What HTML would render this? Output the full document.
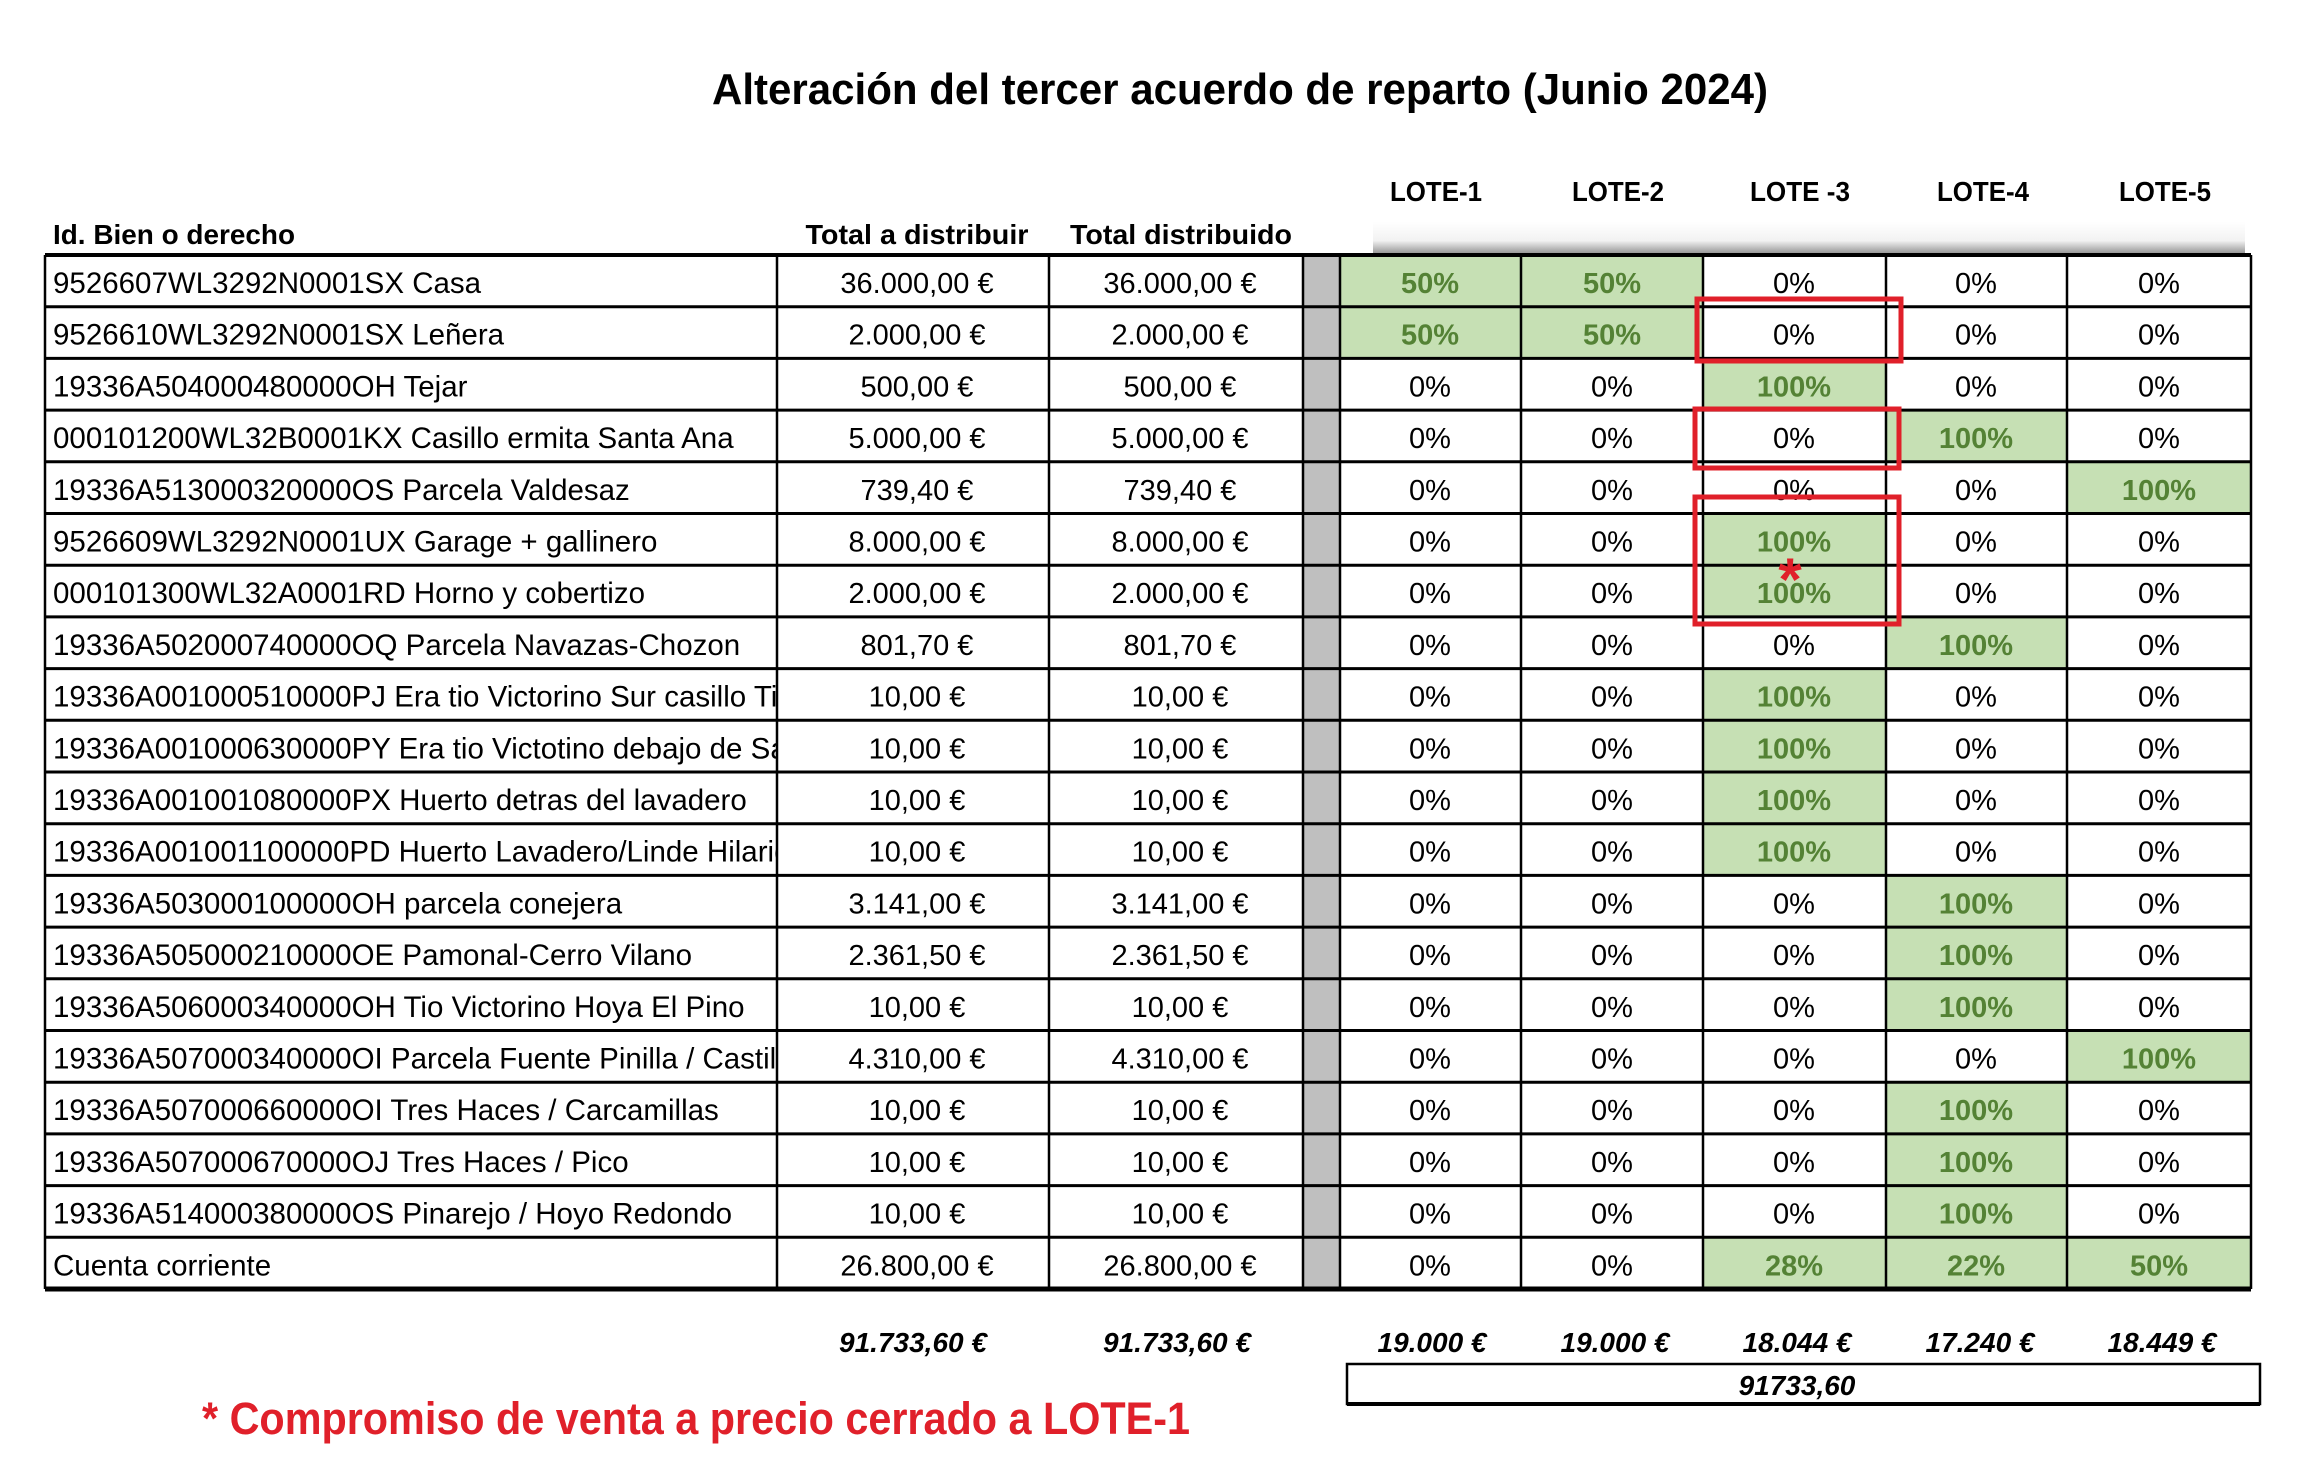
<!DOCTYPE html>
<html><head><meta charset="utf-8"><style>
html,body{margin:0;padding:0;background:#fff;}
svg{display:block;}
text{font-family:"Liberation Sans",sans-serif;}
.n{font-size:29.5px;}
.v{font-size:29px;text-anchor:middle;}
.g{font-size:29px;text-anchor:middle;font-weight:bold;fill:#548235;}
</style></head><body>
<svg width="2304" height="1468" viewBox="0 0 2304 1468" xmlns="http://www.w3.org/2000/svg">
<defs>
<clipPath id="nc"><rect x="45" y="0" width="732" height="60"/></clipPath>
<linearGradient id="sm" x1="0" y1="0" x2="0" y2="1">
<stop offset="0" stop-color="#fff"/><stop offset="0.6" stop-color="#f2f2f2"/><stop offset="1" stop-color="#999"/></linearGradient>
</defs>
<text x="1240" y="104" font-size="44" font-weight="bold" text-anchor="middle" textLength="1056" lengthAdjust="spacingAndGlyphs">Alteración del tercer acuerdo de reparto (Junio 2024)</text>
<rect x="1373" y="222" width="872" height="31" fill="url(#sm)"/>
<g font-size="28" font-weight="bold">
<text x="53" y="244" textLength="242" lengthAdjust="spacingAndGlyphs">Id. Bien o derecho</text>
<text x="917" y="244" text-anchor="middle" textLength="223" lengthAdjust="spacingAndGlyphs">Total a distribuir</text>
<text x="1181" y="244" text-anchor="middle" textLength="222" lengthAdjust="spacingAndGlyphs">Total distribuido</text>
<text x="1436" y="201" text-anchor="middle" textLength="92" lengthAdjust="spacingAndGlyphs">LOTE-1</text>
<text x="1618" y="201" text-anchor="middle" textLength="92" lengthAdjust="spacingAndGlyphs">LOTE-2</text>
<text x="1800" y="201" text-anchor="middle" textLength="100" lengthAdjust="spacingAndGlyphs">LOTE -3</text>
<text x="1983" y="201" text-anchor="middle" textLength="92" lengthAdjust="spacingAndGlyphs">LOTE-4</text>
<text x="2165" y="201" text-anchor="middle" textLength="92" lengthAdjust="spacingAndGlyphs">LOTE-5</text>
</g>

<g fill="#c6e0b4">
<rect x="1340" y="255" width="363" height="103.4"/>
<rect x="1703" y="358.4" width="183" height="51.7"/>
<rect x="1886" y="410.1" width="181" height="51.7"/>
<rect x="2067" y="461.8" width="184" height="51.7"/>
<rect x="1703" y="513.5" width="183" height="103.4"/>
<rect x="1886" y="616.9" width="181" height="51.7"/>
<rect x="1703" y="668.6" width="183" height="206.8"/>
<rect x="1886" y="875.4" width="181" height="155.1"/>
<rect x="2067" y="1030.5" width="184" height="51.7"/>
<rect x="1886" y="1082.2" width="181" height="155.1"/>
<rect x="1703" y="1237.3" width="548" height="51.7"/>
</g>
<rect x="1303" y="255" width="37" height="1034" fill="#bfbfbf"/>

<g transform="translate(0,255)"><text class="n" x="53" y="38" clip-path="url(#nc)">9526607WL3292N0001SX Casa</text><text class="v" x="917" y="38">36.000,00 €</text><text class="v" x="1180" y="38">36.000,00 €</text><text class="g" x="1430" y="38">50%</text><text class="g" x="1612" y="38">50%</text><text class="v" x="1794" y="38">0%</text><text class="v" x="1976" y="38">0%</text><text class="v" x="2159" y="38">0%</text></g>
<g transform="translate(0,306.7)"><text class="n" x="53" y="38" clip-path="url(#nc)">9526610WL3292N0001SX Leñera</text><text class="v" x="917" y="38">2.000,00 €</text><text class="v" x="1180" y="38">2.000,00 €</text><text class="g" x="1430" y="38">50%</text><text class="g" x="1612" y="38">50%</text><text class="v" x="1794" y="38">0%</text><text class="v" x="1976" y="38">0%</text><text class="v" x="2159" y="38">0%</text></g>
<g transform="translate(0,358.4)"><text class="n" x="53" y="38" clip-path="url(#nc)">19336A504000480000OH Tejar</text><text class="v" x="917" y="38">500,00 €</text><text class="v" x="1180" y="38">500,00 €</text><text class="v" x="1430" y="38">0%</text><text class="v" x="1612" y="38">0%</text><text class="g" x="1794" y="38">100%</text><text class="v" x="1976" y="38">0%</text><text class="v" x="2159" y="38">0%</text></g>
<g transform="translate(0,410.1)"><text class="n" x="53" y="38" clip-path="url(#nc)">000101200WL32B0001KX Casillo ermita Santa Ana</text><text class="v" x="917" y="38">5.000,00 €</text><text class="v" x="1180" y="38">5.000,00 €</text><text class="v" x="1430" y="38">0%</text><text class="v" x="1612" y="38">0%</text><text class="v" x="1794" y="38">0%</text><text class="g" x="1976" y="38">100%</text><text class="v" x="2159" y="38">0%</text></g>
<g transform="translate(0,461.8)"><text class="n" x="53" y="38" clip-path="url(#nc)">19336A513000320000OS Parcela Valdesaz</text><text class="v" x="917" y="38">739,40 €</text><text class="v" x="1180" y="38">739,40 €</text><text class="v" x="1430" y="38">0%</text><text class="v" x="1612" y="38">0%</text><text class="v" x="1794" y="38">0%</text><text class="v" x="1976" y="38">0%</text><text class="g" x="2159" y="38">100%</text></g>
<g transform="translate(0,513.5)"><text class="n" x="53" y="38" clip-path="url(#nc)">9526609WL3292N0001UX Garage + gallinero</text><text class="v" x="917" y="38">8.000,00 €</text><text class="v" x="1180" y="38">8.000,00 €</text><text class="v" x="1430" y="38">0%</text><text class="v" x="1612" y="38">0%</text><text class="g" x="1794" y="38">100%</text><text class="v" x="1976" y="38">0%</text><text class="v" x="2159" y="38">0%</text></g>
<g transform="translate(0,565.2)"><text class="n" x="53" y="38" clip-path="url(#nc)">000101300WL32A0001RD Horno y cobertizo</text><text class="v" x="917" y="38">2.000,00 €</text><text class="v" x="1180" y="38">2.000,00 €</text><text class="v" x="1430" y="38">0%</text><text class="v" x="1612" y="38">0%</text><text class="g" x="1794" y="38">100%</text><text class="v" x="1976" y="38">0%</text><text class="v" x="2159" y="38">0%</text></g>
<g transform="translate(0,616.9)"><text class="n" x="53" y="38" clip-path="url(#nc)">19336A502000740000OQ Parcela Navazas-Chozon</text><text class="v" x="917" y="38">801,70 €</text><text class="v" x="1180" y="38">801,70 €</text><text class="v" x="1430" y="38">0%</text><text class="v" x="1612" y="38">0%</text><text class="v" x="1794" y="38">0%</text><text class="g" x="1976" y="38">100%</text><text class="v" x="2159" y="38">0%</text></g>
<g transform="translate(0,668.6)"><text class="n" x="53" y="38" clip-path="url(#nc)">19336A001000510000PJ Era tio Victorino Sur casillo Tibur</text><text class="v" x="917" y="38">10,00 €</text><text class="v" x="1180" y="38">10,00 €</text><text class="v" x="1430" y="38">0%</text><text class="v" x="1612" y="38">0%</text><text class="g" x="1794" y="38">100%</text><text class="v" x="1976" y="38">0%</text><text class="v" x="2159" y="38">0%</text></g>
<g transform="translate(0,720.3)"><text class="n" x="53" y="38" clip-path="url(#nc)">19336A001000630000PY Era tio Victotino debajo de Santa</text><text class="v" x="917" y="38">10,00 €</text><text class="v" x="1180" y="38">10,00 €</text><text class="v" x="1430" y="38">0%</text><text class="v" x="1612" y="38">0%</text><text class="g" x="1794" y="38">100%</text><text class="v" x="1976" y="38">0%</text><text class="v" x="2159" y="38">0%</text></g>
<g transform="translate(0,772)"><text class="n" x="53" y="38" clip-path="url(#nc)">19336A001001080000PX Huerto detras del lavadero</text><text class="v" x="917" y="38">10,00 €</text><text class="v" x="1180" y="38">10,00 €</text><text class="v" x="1430" y="38">0%</text><text class="v" x="1612" y="38">0%</text><text class="g" x="1794" y="38">100%</text><text class="v" x="1976" y="38">0%</text><text class="v" x="2159" y="38">0%</text></g>
<g transform="translate(0,823.7)"><text class="n" x="53" y="38" clip-path="url(#nc)">19336A001001100000PD Huerto Lavadero/Linde Hilario</text><text class="v" x="917" y="38">10,00 €</text><text class="v" x="1180" y="38">10,00 €</text><text class="v" x="1430" y="38">0%</text><text class="v" x="1612" y="38">0%</text><text class="g" x="1794" y="38">100%</text><text class="v" x="1976" y="38">0%</text><text class="v" x="2159" y="38">0%</text></g>
<g transform="translate(0,875.4)"><text class="n" x="53" y="38" clip-path="url(#nc)">19336A503000100000OH parcela conejera</text><text class="v" x="917" y="38">3.141,00 €</text><text class="v" x="1180" y="38">3.141,00 €</text><text class="v" x="1430" y="38">0%</text><text class="v" x="1612" y="38">0%</text><text class="v" x="1794" y="38">0%</text><text class="g" x="1976" y="38">100%</text><text class="v" x="2159" y="38">0%</text></g>
<g transform="translate(0,927.1)"><text class="n" x="53" y="38" clip-path="url(#nc)">19336A505000210000OE Pamonal-Cerro Vilano</text><text class="v" x="917" y="38">2.361,50 €</text><text class="v" x="1180" y="38">2.361,50 €</text><text class="v" x="1430" y="38">0%</text><text class="v" x="1612" y="38">0%</text><text class="v" x="1794" y="38">0%</text><text class="g" x="1976" y="38">100%</text><text class="v" x="2159" y="38">0%</text></g>
<g transform="translate(0,978.8)"><text class="n" x="53" y="38" clip-path="url(#nc)">19336A506000340000OH Tio Victorino Hoya El Pino</text><text class="v" x="917" y="38">10,00 €</text><text class="v" x="1180" y="38">10,00 €</text><text class="v" x="1430" y="38">0%</text><text class="v" x="1612" y="38">0%</text><text class="v" x="1794" y="38">0%</text><text class="g" x="1976" y="38">100%</text><text class="v" x="2159" y="38">0%</text></g>
<g transform="translate(0,1030.5)"><text class="n" x="53" y="38" clip-path="url(#nc)">19336A507000340000OI Parcela Fuente Pinilla / Castillo</text><text class="v" x="917" y="38">4.310,00 €</text><text class="v" x="1180" y="38">4.310,00 €</text><text class="v" x="1430" y="38">0%</text><text class="v" x="1612" y="38">0%</text><text class="v" x="1794" y="38">0%</text><text class="v" x="1976" y="38">0%</text><text class="g" x="2159" y="38">100%</text></g>
<g transform="translate(0,1082.2)"><text class="n" x="53" y="38" clip-path="url(#nc)">19336A507000660000OI Tres Haces / Carcamillas</text><text class="v" x="917" y="38">10,00 €</text><text class="v" x="1180" y="38">10,00 €</text><text class="v" x="1430" y="38">0%</text><text class="v" x="1612" y="38">0%</text><text class="v" x="1794" y="38">0%</text><text class="g" x="1976" y="38">100%</text><text class="v" x="2159" y="38">0%</text></g>
<g transform="translate(0,1133.9)"><text class="n" x="53" y="38" clip-path="url(#nc)">19336A507000670000OJ Tres Haces / Pico</text><text class="v" x="917" y="38">10,00 €</text><text class="v" x="1180" y="38">10,00 €</text><text class="v" x="1430" y="38">0%</text><text class="v" x="1612" y="38">0%</text><text class="v" x="1794" y="38">0%</text><text class="g" x="1976" y="38">100%</text><text class="v" x="2159" y="38">0%</text></g>
<g transform="translate(0,1185.6)"><text class="n" x="53" y="38" clip-path="url(#nc)">19336A514000380000OS Pinarejo / Hoyo Redondo</text><text class="v" x="917" y="38">10,00 €</text><text class="v" x="1180" y="38">10,00 €</text><text class="v" x="1430" y="38">0%</text><text class="v" x="1612" y="38">0%</text><text class="v" x="1794" y="38">0%</text><text class="g" x="1976" y="38">100%</text><text class="v" x="2159" y="38">0%</text></g>
<g transform="translate(0,1237.3)"><text class="n" x="53" y="38" clip-path="url(#nc)">Cuenta corriente</text><text class="v" x="917" y="38">26.800,00 €</text><text class="v" x="1180" y="38">26.800,00 €</text><text class="v" x="1430" y="38">0%</text><text class="v" x="1612" y="38">0%</text><text class="g" x="1794" y="38">28%</text><text class="g" x="1976" y="38">22%</text><text class="g" x="2159" y="38">50%</text></g>

<g stroke="#000" stroke-width="3">
<line x1="45" x2="2251" y1="255" y2="255" stroke-width="4"/>
<line x1="45" x2="2251" y1="306.7" y2="306.7"/>
<line x1="45" x2="2251" y1="358.4" y2="358.4"/>
<line x1="45" x2="2251" y1="410.1" y2="410.1"/>
<line x1="45" x2="2251" y1="461.8" y2="461.8"/>
<line x1="45" x2="2251" y1="513.5" y2="513.5"/>
<line x1="45" x2="2251" y1="565.2" y2="565.2"/>
<line x1="45" x2="2251" y1="616.9" y2="616.9"/>
<line x1="45" x2="2251" y1="668.6" y2="668.6"/>
<line x1="45" x2="2251" y1="720.3" y2="720.3"/>
<line x1="45" x2="2251" y1="772" y2="772"/>
<line x1="45" x2="2251" y1="823.7" y2="823.7"/>
<line x1="45" x2="2251" y1="875.4" y2="875.4"/>
<line x1="45" x2="2251" y1="927.1" y2="927.1"/>
<line x1="45" x2="2251" y1="978.8" y2="978.8"/>
<line x1="45" x2="2251" y1="1030.5" y2="1030.5"/>
<line x1="45" x2="2251" y1="1082.2" y2="1082.2"/>
<line x1="45" x2="2251" y1="1133.9" y2="1133.9"/>
<line x1="45" x2="2251" y1="1185.6" y2="1185.6"/>
<line x1="45" x2="2251" y1="1237.3" y2="1237.3"/>
<line x1="45" x2="2251" y1="1289" y2="1289" stroke-width="5"/>
</g>
<g stroke="#000" stroke-width="2.5">
<line x1="45" x2="45" y1="255" y2="1289"/>
<line x1="777" x2="777" y1="255" y2="1289"/>
<line x1="1049" x2="1049" y1="255" y2="1289"/>
<line x1="1303" x2="1303" y1="255" y2="1289"/>
<line x1="1340" x2="1340" y1="255" y2="1289"/>
<line x1="1521" x2="1521" y1="255" y2="1289"/>
<line x1="1703" x2="1703" y1="255" y2="1289"/>
<line x1="1886" x2="1886" y1="255" y2="1289"/>
<line x1="2067" x2="2067" y1="255" y2="1289"/>
<line x1="2251" x2="2251" y1="255" y2="1289"/>
</g>

<g fill="none" stroke="#e0202a" stroke-width="5">
<rect x="1697" y="299" width="204" height="62"/>
<rect x="1695" y="409" width="204" height="59"/>
<rect x="1695" y="497" width="204" height="127"/>
</g>
<text x="1790" y="600" font-size="60" font-weight="bold" fill="#e0202a" text-anchor="middle">*</text>

<g font-size="28" font-weight="bold" font-style="italic" text-anchor="middle">
<text x="913" y="1352">91.733,60 €</text>
<text x="1177" y="1352">91.733,60 €</text>
<text x="1432" y="1352">19.000 €</text>
<text x="1615" y="1352">19.000 €</text>
<text x="1797" y="1352">18.044 €</text>
<text x="1980" y="1352">17.240 €</text>
<text x="2162" y="1352">18.449 €</text>
<text x="1797" y="1395">91733,60</text>
</g>
<rect x="1347" y="1364" width="913" height="40" fill="none" stroke="#000" stroke-width="2.5"/>
<line x1="1347" x2="2260" y1="1404" y2="1404" stroke="#000" stroke-width="4"/>
<text x="202" y="1434" font-size="45" font-weight="bold" fill="#e0202a" textLength="988" lengthAdjust="spacingAndGlyphs">* Compromiso de venta a precio cerrado a LOTE-1</text>
</svg>
</body></html>
